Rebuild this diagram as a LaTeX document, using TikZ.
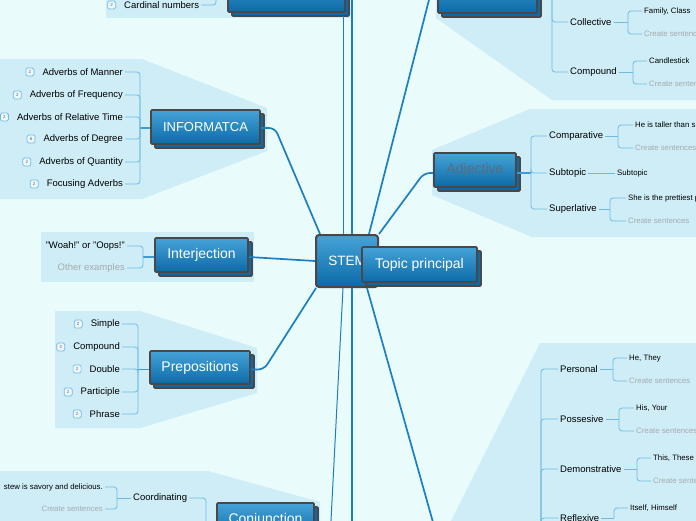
\documentclass[tikz,border=0pt]{standalone}
\usepackage{fontspec}
\setmainfont{Liberation Sans}
\usepackage{tikz}
\usetikzlibrary{positioning,calc,shadows}
\definecolor{canvas}{HTML}{E9FBFB}
\definecolor{panel}{HTML}{CFEDF7}
\definecolor{twigblue}{HTML}{6DBBE3}
\definecolor{branchblue}{HTML}{3D9CD3}
\definecolor{limbblue}{HTML}{1C7FC2}
\definecolor{boxtop}{HTML}{45A3D8}
\definecolor{boxbot}{HTML}{0C6BA7}
\definecolor{boxline}{HTML}{4B4648}
\definecolor{hintgray}{HTML}{A5AAAE}
\definecolor{badgefill}{HTML}{EEF8FC}
\definecolor{adjgray}{HTML}{5E6B78}

\begin{document}
\begin{tikzpicture}[x=1pt,y=-1pt,every node/.style={inner sep=2pt},
  subject/.style={draw=boxline,line width=1.6pt,top color=boxtop,bottom color=boxbot,rounded corners=1pt,text=white,font=\fontsize{14}{16}\selectfont,
    copy shadow={shadow xshift=4pt,shadow yshift=-4pt,fill=boxbot,draw=boxline,line width=1.6pt}},
  leaf/.style={font=\fontsize{9.5}{11}\selectfont},
  twiglet/.style={font=\fontsize{7.8}{9}\selectfont},
  hint/.style={twiglet,text=hintgray},
  badge/.style={draw=twigblue,fill=badgefill,rounded corners=1.5pt,line width=0.7pt,minimum size=8pt,inner sep=0pt,font=\fontsize{4.5}{5}\selectfont,text=black!60},
  twig/.style={draw=twigblue,line width=0.8pt,rounded corners=3pt},
  branch/.style={draw=branchblue,line width=1.3pt},
  limb/.style={draw=limbblue,line width=1.7pt,rounded corners=6pt},
  limbthin/.style={limb,line width=1pt}]
\useasboundingbox (0,0) rectangle (696,520);
\clip (0,0) rectangle (696,520);
\fill[canvas] (-5,-5) rectangle (701,525);
% panels
\fill[panel] (106,-5) rectangle (352,18);
\fill[panel] (436,-5) -- (700,-5) -- (700,100) -- (552,100) -- (436,18) -- cycle;
\fill[panel] (530,109) -- (700,109) -- (700,237) -- (532,237) -- (432,195) -- (432,150) -- cycle;
\fill[panel] (-5,59) -- (142,59) -- (267,108) -- (267,151) -- (142,199) -- (-5,199) -- cycle;
\fill[panel] (41,232) rectangle (254,282);
\fill[panel] (55,311) -- (140,311) -- (257,348) -- (257,393) -- (140,428) -- (55,428) -- cycle;
\fill[panel] (-5,471) -- (208,471) -- (320,502) -- (320,525) -- (-5,525) -- cycle;
\fill[panel] (540,343) -- (700,343) -- (700,525) -- (449,525) -- cycle;

% main topics
\node[draw=boxline,line width=2pt,top color=boxtop,bottom color=boxbot,rounded corners=3pt,minimum width=62pt,minimum height=52pt,text=white,font=\fontsize{13.5}{15}\selectfont] (stem) at (347,261) {STEM};
\node[subject,minimum width=115pt,minimum height=35pt] (topic) at (419.5,264.5) {Topic principal};
\node[subject,minimum width=109pt,minimum height=34pt,font=\fontsize{13}{15}\selectfont] (info) at (205.5,127) {INFORMATCA};
\node[subject,minimum width=93pt,minimum height=34pt] (inter) at (201.5,255) {Interjection};
\node[subject,minimum width=100pt,minimum height=33pt] (prep) at (200,367.5) {Prepositions};
\node[subject,minimum width=82pt,minimum height=34pt,text=adjgray] (adj) at (475,170) {Adjective};
\node[subject,minimum width=97pt,minimum height=34pt] (conj) at (265.5,520) {Conjunction};
\node[subject,minimum width=117pt,minimum height=42pt] (numbers) at (286.5,-9) {};
\node[subject,minimum width=99pt,minimum height=42pt] (noun) at (487.5,-8) {};

% INFORMATCA
\node[leaf,anchor=east] (manner) at (125,72) {Adverbs of Manner};
\node[leaf,anchor=east] (freq) at (125,95) {Adverbs of Frequency};
\node[leaf,anchor=east] (reltime) at (125,117) {Adverbs of Relative Time};
\node[leaf,anchor=east] (degree) at (125,139) {Adverbs of Degree};
\node[leaf,anchor=east] (quantity) at (125,162) {Adverbs of Quantity};
\node[leaf,anchor=east] (focus) at (125,184) {Focusing Adverbs};
\node[badge,left=6pt of manner] (bManner) {2};
\node[badge,left=6pt of freq] (bFreq) {2};
\node[badge,left=6pt of reltime] (bReltime) {2};
\node[badge,left=6pt of degree] (bDegree) {6};
\node[badge,left=6pt of quantity] (bQuantity) {2};
\node[badge,left=6pt of focus] (bFocus) {2};
\coordinate (infoJ) at (140,128);
\draw[branch] (info.west |- infoJ) -- (infoJ);
\foreach \c in {manner,freq,reltime,degree,quantity,focus} \draw[twig] (infoJ) |- (\c.east);

% Interjection
\node[leaf,anchor=east] (woah) at (127,246) {"Woah!" or "Oops!"};
\node[leaf,anchor=east,text=hintgray] (otherex) at (127,268) {Other examples};
\coordinate (interJ) at (143,257);
\draw[branch] (inter.west |- interJ) -- (interJ);
\foreach \c in {woah,otherex} \draw[twig] (interJ) |- (\c.east);

% Prepositions
\node[leaf,anchor=east] (simple) at (122,324) {Simple};
\node[leaf,anchor=east] (pcompound) at (122,347) {Compound};
\node[leaf,anchor=east] (double) at (122,369) {Double};
\node[leaf,anchor=east] (participle) at (122,392) {Participle};
\node[leaf,anchor=east] (phrase) at (122,414) {Phrase};
\foreach \c in {simple,pcompound,double,participle,phrase} \node[badge,left=6pt of \c] (b\c) {2};
\coordinate (prepJ) at (138,369.5);
\draw[branch] (prep.west |- prepJ) -- (prepJ);
\foreach \c in {simple,pcompound,double,participle,phrase} \draw[twig] (prepJ) |- (\c.east);

% numbers
\node[leaf,anchor=west] (cardinal) at (122,5) {Cardinal numbers};
\node[badge,left=6pt of cardinal] (bCardinal) {2};
\coordinate (numJ) at (216,-8);
\draw[branch] (numbers.west |- numJ) -- (numJ);
\draw[twig] (numJ) |- (cardinal.east);

% Adjective
\node[leaf,anchor=west] (comparative) at (547,136) {Comparative};
\node[leaf,anchor=west] (subtopic) at (547,173) {Subtopic};
\node[leaf,anchor=west] (superlative) at (547,209) {Superlative};
\coordinate (adjJ) at (531,173);
\draw[branch] (adj.east |- adjJ) -- (adjJ);
\foreach \c in {comparative,subtopic,superlative} \draw[twig] (adjJ) |- (\c.west);
\node[twiglet,anchor=west] (taller) at (633,125) {He is taller than s};
\node[hint,anchor=west] (tallerhint) at (633,148) {Create sentences};
\coordinate (compJ) at (618,136);
\draw[twig] (comparative.east) -- (compJ);
\foreach \c in {taller,tallerhint} \draw[twig] (compJ) |- (\c.west);
\node[twiglet,anchor=west] (subsub) at (615,173) {Subtopic};
\draw[twig] (subtopic.east) -- (subsub.west);
\node[twiglet,anchor=west] (prettiest) at (626,198) {She is the prettiest p};
\node[hint,anchor=west] (prettyhint) at (626,221) {Create sentences};
\coordinate (superJ) at (610,209);
\draw[twig] (superlative.east) -- (superJ);
\foreach \c in {prettiest,prettyhint} \draw[twig] (superJ) |- (\c.west);

% noun
\node[leaf,anchor=west] (collective) at (568,22) {Collective};
\node[leaf,anchor=west] (ncompound) at (568,72) {Compound};
\coordinate (nounK) at (552,-6);
\draw[branch] (noun.east |- nounK) -- (nounK);
\foreach \c in {collective,ncompound} \draw[twig] (nounK) |- (\c.west);
\node[twiglet,anchor=west] (family) at (642,11) {Family, Class};
\node[hint,anchor=west] (familyhint) at (642,34) {Create sentences};
\coordinate (collJ) at (628,22);
\draw[twig] (collective.east) -- (collJ);
\foreach \c in {family,familyhint} \draw[twig] (collJ) |- (\c.west);
\node[twiglet,anchor=west] (candle) at (647,61) {Candlestick};
\node[hint,anchor=west] (candlehint) at (647,84) {Create sentences};
\coordinate (cpdJ) at (633,72);
\draw[twig] (ncompound.east) -- (cpdJ);
\foreach \c in {candle,candlehint} \draw[twig] (cpdJ) |- (\c.west);

% pronoun
\node[leaf,anchor=west] (personal) at (558,369) {Personal};
\node[leaf,anchor=west] (possesive) at (558,419) {Possesive};
\node[leaf,anchor=west] (demonstrative) at (558,469) {Demonstrative};
\node[leaf,anchor=west] (reflexive) at (558,518) {Reflexive};
\coordinate (pronK) at (541,560);
\foreach \c in {personal,possesive,demonstrative,reflexive} \draw[twig] (pronK) |- (\c.west);
\node[twiglet,anchor=west] (hethey) at (627,358) {He, They};
\node[hint,anchor=west] (hetheyhint) at (627,381) {Create sentences};
\coordinate (persJ) at (613,369);
\draw[twig] (personal.east) -- (persJ);
\foreach \c in {hethey,hetheyhint} \draw[twig] (persJ) |- (\c.west);
\node[twiglet,anchor=west] (hisyour) at (634,408) {His, Your};
\node[hint,anchor=west] (hisyourhint) at (634,431) {Create sentences};
\coordinate (possJ) at (619,419);
\draw[twig] (possesive.east) -- (possJ);
\foreach \c in {hisyour,hisyourhint} \draw[twig] (possJ) |- (\c.west);
\node[twiglet,anchor=west] (thisthese) at (651,458) {This, These};
\node[hint,anchor=west] (thistheseint) at (651,481) {Create sentences};
\coordinate (demJ) at (637,469);
\draw[twig] (demonstrative.east) -- (demJ);
\foreach \c in {thisthese,thistheseint} \draw[twig] (demJ) |- (\c.west);
\node[twiglet,anchor=west] (itself) at (628,508) {Itself, Himself};
\coordinate (reflJ) at (614,518);
\draw[twig] (reflexive.east) -- (reflJ);
\draw[twig] (reflJ) |- (itself.west);

% Conjunction
\node[leaf,anchor=west] (coordinating) at (131,498) {Coordinating};
\node[twiglet,anchor=east] (stew) at (105,487) {stew is savory and delicious.};
\node[hint,anchor=east] (stewhint) at (105,509) {Create sentences};
\coordinate (coordJ) at (117,498);
\draw[twig] (coordinating.west) -- (coordJ);
\foreach \c in {stew,stewhint} \draw[twig] (coordJ) |- (\c.east);
\coordinate (conjJ) at (206,522);
\draw[branch] (conj.west |- conjJ) -- (conjJ);
\draw[twig] (conjJ) |- (coordinating.east);

% limbs from the centre
\coordinate (upA) at (343,16);
\coordinate (upB) at (352,-20);
\coordinate (downA) at (330,540);
\coordinate (downB) at (352,540);
\coordinate (downC) at (438,540);
\draw[limbthin] (stem.north -| upA) -- (upA);
\draw[limb] (stem.north -| upB) -- (upB);
\draw[limbthin] (stem.south -| upA) -- (downA);
\draw[limb] (stem.south -| downB) -- (downB);
\draw[limb] ($(stem.south)+(20,0)$) -- (downC);
\draw[limb] ($(stem.north)+(22,0)$) -- (431,-8) -- (noun.west);
\draw[limb] (stem.north east) -- (424,173) -- (adj.west |- adjJ);
\draw[limb] (info.east |- infoJ) -- (275,128) -- ($(stem.north west)+(5,0)$);
\draw[limb] (inter.east |- interJ) -- (stem.west);
\draw[limb] (prep.east |- prepJ) -- (264,369.5) -- ($(stem.south west)+(1,0)$);
\end{tikzpicture}
\end{document}
